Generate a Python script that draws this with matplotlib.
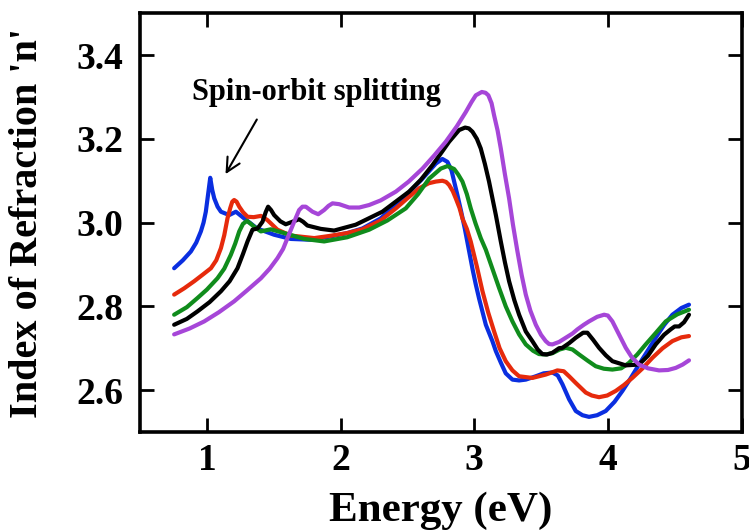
import matplotlib
matplotlib.use("Agg")
import matplotlib.pyplot as plt

# data (energy in eV, refractive index n)
blue_x = [0.755, 0.82, 0.88, 0.92, 0.955, 0.975, 0.992, 1.010, 1.025, 1.040, 1.055, 1.080,
          1.105, 1.167, 1.217, 1.279, 1.376, 1.503, 1.628, 1.778, 1.927, 2.050, 2.164, 2.300,
          2.414, 2.520, 2.613, 2.713, 2.762, 2.800, 2.830, 2.850, 2.875, 2.900, 2.930, 2.960,
          2.990, 3.012, 3.037, 3.087, 3.136, 3.162, 3.200, 3.236, 3.286, 3.336, 3.386, 3.461,
          3.520, 3.585, 3.625, 3.660, 3.710, 3.760, 3.810, 3.859, 3.920, 3.984, 4.050, 4.109,
          4.170, 4.233, 4.300, 4.358, 4.420, 4.483, 4.550, 4.607]
blue_y = [2.891, 2.910, 2.931, 2.952, 2.979, 3.000, 3.026, 3.070, 3.107, 3.078, 3.058, 3.038,
          3.026, 3.018, 3.026, 3.010, 2.986, 2.971, 2.961, 2.959, 2.967, 2.975, 2.986, 3.010,
          3.042, 3.075, 3.105, 3.141, 3.152, 3.145, 3.125, 3.098, 3.065, 3.030, 2.985, 2.935,
          2.885, 2.852, 2.818, 2.756, 2.717, 2.693, 2.665, 2.640, 2.625, 2.623, 2.625, 2.633,
          2.640, 2.642, 2.635, 2.614, 2.578, 2.550, 2.540, 2.536, 2.540, 2.550, 2.572, 2.598,
          2.628, 2.661, 2.695, 2.725, 2.755, 2.780, 2.796, 2.804]

red_x = [0.755, 0.83, 0.905, 0.97, 1.03, 1.070, 1.105, 1.130, 1.154, 1.175, 1.19, 1.204,
         1.222, 1.242, 1.270, 1.304, 1.350, 1.404, 1.453, 1.528, 1.628, 1.803, 1.915, 2.050,
         2.164, 2.300, 2.414, 2.500, 2.588, 2.660, 2.713, 2.762, 2.790, 2.812, 2.840, 2.862,
         2.890, 2.912, 2.945, 2.974, 3.020, 3.062, 3.105, 3.149, 3.190, 3.236, 3.286, 3.336,
         3.435, 3.535, 3.580, 3.622, 3.670, 3.710, 3.760, 3.835, 3.880, 3.934, 3.995, 4.059,
         4.120, 4.183, 4.260, 4.333, 4.410, 4.483, 4.550, 4.607]
red_y = [2.828, 2.843, 2.860, 2.876, 2.891, 2.910, 2.939, 2.970, 3.010, 3.035, 3.050, 3.054,
         3.050, 3.038, 3.025, 3.014, 3.013, 3.016, 3.006, 2.983, 2.969, 2.963, 2.968, 2.975,
         2.984, 3.005, 3.034, 3.058, 3.082, 3.094, 3.098, 3.100, 3.097, 3.090, 3.075, 3.058,
         3.035, 3.010, 2.985, 2.955, 2.895, 2.836, 2.785, 2.740, 2.700, 2.669, 2.647, 2.633,
         2.629, 2.637, 2.642, 2.647, 2.645, 2.633, 2.617, 2.594, 2.587, 2.583, 2.587, 2.598,
         2.612, 2.629, 2.652, 2.677, 2.700, 2.717, 2.726, 2.729]

green_x = [0.755, 0.85, 0.93, 1.000, 1.079, 1.130, 1.179, 1.212, 1.242, 1.270, 1.299, 1.325,
           1.354, 1.404, 1.478, 1.578, 1.728, 1.877, 2.050, 2.214, 2.350, 2.488, 2.580, 2.663,
           2.750, 2.800, 2.850, 2.880, 2.912, 2.945, 2.974, 3.010, 3.049, 3.087, 3.136, 3.186,
           3.236, 3.286, 3.336, 3.386, 3.440, 3.485, 3.535, 3.585, 3.640, 3.685, 3.735, 3.785,
           3.850, 3.909, 3.970, 4.034, 4.100, 4.158, 4.220, 4.283, 4.360, 4.433, 4.520, 4.607]
green_y = [2.780, 2.798, 2.820, 2.840, 2.867, 2.890, 2.923, 2.950, 2.979, 2.997, 3.004, 2.998,
           2.990, 2.979, 2.984, 2.975, 2.961, 2.955, 2.965, 2.983, 3.005, 3.034, 3.068, 3.105,
           3.129, 3.135, 3.128, 3.115, 3.098, 3.068, 3.034, 2.998, 2.963, 2.935, 2.890, 2.844,
           2.800, 2.764, 2.733, 2.709, 2.694, 2.686, 2.685, 2.688, 2.697, 2.701, 2.697, 2.685,
           2.670, 2.657, 2.651, 2.649, 2.652, 2.665, 2.685, 2.709, 2.737, 2.764, 2.781, 2.792]

black_x = [0.755, 0.85, 0.93, 1.020, 1.105, 1.170, 1.229, 1.270, 1.304, 1.341, 1.379, 1.416,
           1.440, 1.458, 1.480, 1.503, 1.550, 1.590, 1.640, 1.690, 1.720, 1.752, 1.852, 1.952,
           2.114, 2.313, 2.513, 2.600, 2.687, 2.750, 2.812, 2.887, 2.932, 2.960, 2.987, 3.020,
           3.049, 3.080, 3.111, 3.162, 3.199, 3.230, 3.261, 3.300, 3.336, 3.386, 3.435, 3.475,
           3.510, 3.545, 3.585, 3.635, 3.660, 3.710, 3.760, 3.815, 3.847, 3.890, 3.934, 3.985,
           4.034, 4.134, 4.233, 4.300, 4.358, 4.420, 4.470, 4.500, 4.533, 4.570, 4.607]
black_y = [2.756, 2.770, 2.788, 2.810, 2.836, 2.860, 2.891, 2.925, 2.955, 2.983, 2.986, 3.002,
           3.025, 3.038, 3.030, 3.018, 3.003, 2.996, 3.002, 3.008, 3.002, 2.993, 2.985, 2.981,
           2.995, 3.026, 3.074, 3.102, 3.137, 3.165, 3.193, 3.221, 3.227, 3.225, 3.217, 3.200,
           3.177, 3.140, 3.098, 3.018, 2.955, 2.905, 2.860, 2.815, 2.780, 2.740, 2.717, 2.697,
           2.686, 2.685, 2.689, 2.700, 2.701, 2.712, 2.725, 2.737, 2.737, 2.720, 2.701, 2.683,
           2.669, 2.659, 2.661, 2.682, 2.709, 2.732, 2.745, 2.752, 2.752, 2.762, 2.780]

purple_x = [0.755, 0.87, 0.98, 1.090, 1.204, 1.300, 1.404, 1.470, 1.528, 1.570, 1.603, 1.653,
            1.690, 1.715, 1.740, 1.765, 1.790, 1.833, 1.877, 1.910, 1.94, 1.990, 2.064, 2.140,
            2.214, 2.300, 2.414, 2.510, 2.613, 2.700, 2.787, 2.870, 2.937, 2.980, 3.012, 3.057,
            3.085, 3.106, 3.130, 3.149, 3.175, 3.199, 3.230, 3.261, 3.290, 3.323, 3.355, 3.386,
            3.420, 3.461, 3.500, 3.535, 3.560, 3.585, 3.635, 3.685, 3.735, 3.772, 3.820, 3.859,
            3.920, 3.972, 4.000, 4.034, 4.080, 4.134, 4.180, 4.233, 4.300, 4.383, 4.450, 4.508,
            4.560, 4.607]
purple_y = [2.733, 2.747, 2.764, 2.786, 2.812, 2.838, 2.867, 2.890, 2.915, 2.937, 2.963, 3.002,
            3.030, 3.038, 3.038, 3.032, 3.026, 3.020, 3.030, 3.040, 3.046, 3.044, 3.036, 3.036,
            3.042, 3.053, 3.074, 3.098, 3.129, 3.160, 3.193, 3.230, 3.264, 3.288, 3.304, 3.312,
            3.310, 3.304, 3.285, 3.256, 3.220, 3.177, 3.115, 3.058, 2.995, 2.932, 2.875, 2.828,
            2.790, 2.756, 2.732, 2.717, 2.710, 2.709, 2.715, 2.725, 2.735, 2.745, 2.756, 2.764,
            2.775, 2.780, 2.778, 2.764, 2.735, 2.701, 2.678, 2.661, 2.652, 2.647, 2.648, 2.653,
            2.661, 2.671]

x_ticks = [1, 2, 3, 4, 5]
y_ticks = [2.6, 2.8, 3.0, 3.2, 3.4]

plt.rcParams['font.family'] = ['Liberation Serif', 'DejaVu Serif']
plt.rcParams['font.weight'] = 'bold'

fig = plt.figure(figsize=(7.49, 5.30), dpi=100)
ax = fig.add_axes([0.187, 0.185, 0.803, 0.790])

line_kw = dict(lw=3, solid_joinstyle='round', solid_capstyle='round')
ax.plot(blue_x, blue_y, color='#0a2ee0', **line_kw)
ax.plot(red_x, red_y, color='#e62a0c', **line_kw)
ax.plot(green_x, green_y, color='#108c1c', **line_kw)
ax.plot(black_x, black_y, color='black', **line_kw)
ax.plot(purple_x, purple_y, color='#a646d8', **line_kw)

ax.set_xlim(0.5, 4.99)
ax.set_ylim(2.5, 3.5)
ax.set_xticks(x_ticks)
ax.set_yticks(y_ticks)
ax.set_xticklabels([str(t) for t in x_ticks])
ax.set_yticklabels(["%.1f" % t for t in y_ticks])

ax.tick_params(direction='in', length=10, width=2, top=True, right=True,
               labelsize=27)
ax.tick_params(axis='y', pad=12)
ax.tick_params(axis='x', pad=8)
for s in ax.spines.values():
    s.set_linewidth(2.6)

ax.set_xlabel("Energy (eV)", fontsize=31, fontweight='bold', labelpad=10)
ax.set_ylabel("Index of Refraction 'n'", fontsize=29, fontweight='bold', labelpad=22)

ax.annotate("", xy=(1.129, 3.110), xytext=(1.384, 3.252),
            arrowprops=dict(arrowstyle='->', color='black', lw=1.5, mutation_scale=25))
ax.text(1.82, 3.293, "Spin-orbit splitting", fontsize=22, fontweight='bold',
        ha='center', va='baseline')

fig.savefig("out.png", dpi=100)
